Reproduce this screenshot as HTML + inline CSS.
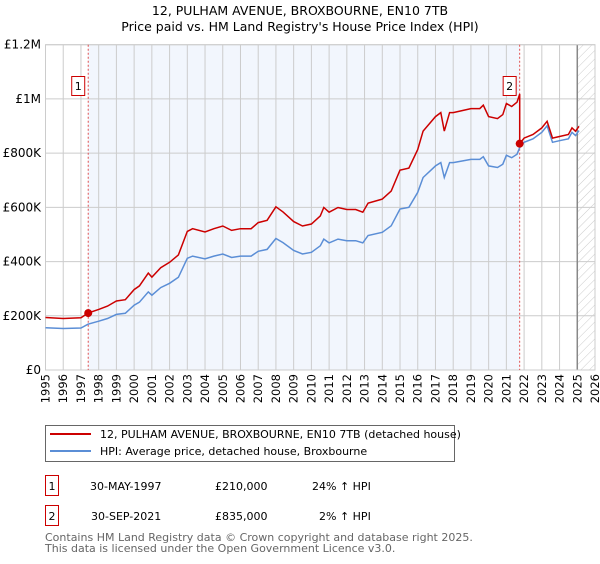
<!DOCTYPE html>
<html><head><meta charset="utf-8"><style>
body{margin:0;background:#fff;font-family:"DejaVu Sans","Liberation Sans",sans-serif;}
svg text{font-family:"DejaVu Sans","Liberation Sans",sans-serif;}
</style></head><body>
<svg id="c" width="600" height="560" xmlns="http://www.w3.org/2000/svg">
<defs><pattern id="hatch" width="6" height="6" patternUnits="userSpaceOnUse" patternTransform="rotate(45)"><line x1="0" y1="0" x2="0" y2="6" stroke="#ccc" stroke-width="1"/></pattern></defs>
<text x="300" y="15" text-anchor="middle" font-size="12.5">12, PULHAM AVENUE, BROXBOURNE, EN10 7TB</text>
<text x="300" y="31" text-anchor="middle" font-size="12.5">Price paid vs. HM Land Registry's House Price Index (HPI)</text>
<g id="plot"></g>
<g>
<rect x="45.5" y="425.5" width="409" height="36" fill="#fff" stroke="#666"/>
<line x1="50" y1="434" x2="91" y2="434" stroke="#cc0000" stroke-width="2"/>
<text x="100" y="438" font-size="11">12, PULHAM AVENUE, BROXBOURNE, EN10 7TB (detached house)</text>
<line x1="50" y1="451" x2="91" y2="451" stroke="#5b8ed6" stroke-width="2"/>
<text x="100" y="455" font-size="11">HPI: Average price, detached house, Broxbourne</text>
</g>
<g font-size="11">
<rect x="45.5" y="475.5" width="13" height="20" fill="#fff" stroke="#cc0000"/>
<text x="52" y="490" text-anchor="middle">1</text>
<text x="90" y="490">30-MAY-1997</text>
<text x="215" y="490">£210,000</text>
<text x="312" y="490">24% ↑ HPI</text>
<rect x="45.5" y="505.5" width="13" height="20" fill="#fff" stroke="#cc0000"/>
<text x="52" y="520" text-anchor="middle">2</text>
<text x="91" y="520">30-SEP-2021</text>
<text x="215" y="520">£835,000</text>
<text x="319" y="520">2% ↑ HPI</text>
</g>
<text x="45" y="541" font-size="11" fill="#666">Contains HM Land Registry data © Crown copyright and database right 2025.</text>
<text x="45" y="552" font-size="11" fill="#666">This data is licensed under the Open Government Licence v3.0.</text>
</svg>
<script>
const hpiYears=[1995,1996,1997,1997.4,1998,1998.5,1999,1999.5,2000,2000.3,2000.8,2001,2001.5,2002,2002.5,2003,2003.3,2004,2004.5,2005,2005.5,2006,2006.6,2007,2007.5,2008,2008.4,2009,2009.5,2010,2010.5,2010.7,2011,2011.5,2012,2012.5,2012.9,2013.2,2014,2014.5,2015,2015.5,2016,2016.3,2017,2017.3,2017.5,2017.8,2018,2018.5,2019,2019.5,2019.7,2020,2020.5,2020.8,2021,2021.3,2021.6,2021.75,2022,2022.5,2023,2023.3,2023.6,2024,2024.5,2024.7,2024.9,2025.1];
const hpiValues=[156,153,155,169,180,190,205,209,239,250,288,276,304,320,342,412,420,410,420,428,415,420,420,438,445,485,470,441,428,434,458,483,469,483,477,477,469,496,508,532,594,600,655,710,753,765,710,765,765,771,777,777,787,753,747,759,792,783,796,820,840,853,877,901,840,846,853,877,865,883];
const saleYears=[1997.41,2021.75];
const salePrices=[210,835];
const saleLabels=["1","2"];
const yTicks=[0,200,400,600,800,1000,1200];
const yTickLabels=["£0","£200K","£400K","£600K","£800K","£1M","£1.2M"];
const xTicks=[1995,1996,1997,1998,1999,2000,2001,2002,2003,2004,2005,2006,2007,2008,2009,2010,2011,2012,2013,2014,2015,2016,2017,2018,2019,2020,2021,2022,2023,2024,2025,2026];

const L=45.5,R=595,T=44.7,B=370;
const X=y=>L+(y-1995)/31*(R-L);
const Y=v=>B-v/1200*(B-T);
const NS="http://www.w3.org/2000/svg";
const g=document.getElementById('plot');
function el(t,a,p){const e=document.createElementNS(NS,t);for(const k in a)e.setAttribute(k,a[k]);(p||g).appendChild(e);return e;}
function hpiAt(y){for(let i=1;i<hpiYears.length;i++){if(y<=hpiYears[i]){const t=(y-hpiYears[i-1])/(hpiYears[i]-hpiYears[i-1]);return hpiValues[i-1]+t*(hpiValues[i]-hpiValues[i-1]);}}return hpiValues[hpiValues.length-1];}

let e=el('rect',{x:X(saleYears[0]),y:T,width:X(saleYears[1])-X(saleYears[0]),height:B-T,fill:'#f2f6fd'});

e=el('rect',{x:X(2025),y:T,width:R-X(2025),height:B-T,fill:'url(#hatch)'});

xTicks.forEach((t,i)=>{
  const l=el('line',{x1:X(t),x2:X(t),y1:T,y2:B,stroke:'#ccc'});
  
  const x=X(t)+4,tx=el('text',{x:x,y:B+4,'font-size':11.5,transform:`rotate(-90 ${x} ${B+4})`,'text-anchor':'end'});
  tx.textContent=t;
  
});
yTicks.forEach((t,i)=>{
  const l=el('line',{x1:L,x2:R,y1:Y(t),y2:Y(t),stroke:'#ccc'});
  
  const tx=el('text',{x:41,y:Y(t)+4,'font-size':12,'text-anchor':'end'});
  tx.textContent=yTickLabels[i];
  
});
e=el('line',{x1:X(2025),x2:X(2025),y1:T,y2:B,stroke:'#888','stroke-width':1.5});

e=el('rect',{x:L,y:T,width:R-L,height:B-T,fill:'none',stroke:'#ccc'});

saleYears.forEach((s,i)=>{
  const l=el('line',{x1:X(s),x2:X(s),y1:T,y2:B,stroke:'#e05050','stroke-dasharray':'2,2'});
  
});
const hp=el('path',{d:hpiYears.map((y,i)=>(i?'L':'M')+X(y).toFixed(1)+','+Y(hpiValues[i]).toFixed(1)).join(''),fill:'none',stroke:'#5b8ed6','stroke-width':1.5});

const r1=salePrices[0]/hpiAt(saleYears[0]),r2=salePrices[1]/hpiAt(saleYears[1]);
let d='';
hpiYears.forEach((y,i)=>{if(y<saleYears[1])d+=(d?'L':'M')+X(y).toFixed(1)+','+Y(hpiValues[i]*r1).toFixed(1);});
d+='L'+X(saleYears[1]).toFixed(1)+','+Y(hpiAt(saleYears[1])*r1).toFixed(1);
d+='L'+X(saleYears[1]).toFixed(1)+','+Y(salePrices[1]).toFixed(1);
hpiYears.forEach((y,i)=>{if(y>saleYears[1])d+='L'+X(y).toFixed(1)+','+Y(hpiValues[i]*r2).toFixed(1);});
const rp=el('path',{d:d,fill:'none',stroke:'#cc0000','stroke-width':1.5});

saleYears.forEach((s,i)=>{
  const c=el('circle',{cx:X(s),cy:Y(salePrices[i]),r:4,fill:'#cc0000'});
  
  const bx=el('rect',{x:X(s)-16.5,y:76.5,width:13,height:19,fill:'#fff',stroke:'#cc0000'});
  
  const t=el('text',{x:X(s)-10,y:90,'font-size':11,'text-anchor':'middle'});
  t.textContent=saleLabels[i];
  
});
</script>
</body></html>
